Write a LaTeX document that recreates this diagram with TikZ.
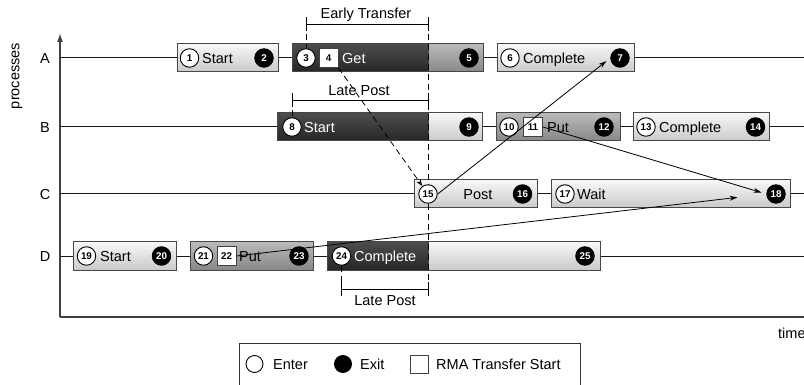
\documentclass[tikz,border=0pt]{standalone}
\usepackage{fontspec}
\setmainfont{Liberation Sans}
\usetikzlibrary{arrows.meta}
\pgfdeclarelayer{lines}
\pgfdeclarelayer{boxes}
\pgfdeclarelayer{guides}
\pgfdeclarelayer{front}
\pgfsetlayers{lines,boxes,guides,main,front}

\tikzset{
  txt/.style={font=\fontsize{14.5}{16}\selectfont, inner sep=0pt, text height=10.4pt, text depth=0pt},
  lbl/.style={txt, anchor=west},
  wlbl/.style={lbl, text=white},
  proc/.style={line width=1pt, draw=black!90},
  axis/.style={line width=1.5pt, draw=black!75},
  boxbase/.style={draw=black!72, line width=1pt, minimum height=28pt, inner sep=0pt, anchor=west},
  lightbox/.style={boxbase, top color=black!3, bottom color=black!21},
  midbox/.style={boxbase, top color=black!27, bottom color=black!47},
  darkbox/.style={boxbase, top color=black!70, bottom color=black!85},
  numfont/.style={font=\fontsize{9.8}{10}\selectfont\bfseries, text height=7pt, text depth=0pt},
  enter/.style={circle, draw=black, line width=0.9pt, fill=white, minimum size=18.5pt, inner sep=0pt, numfont},
  exit/.style={enter, fill=black, text=white},
  rma/.style={rectangle, draw=black!75, line width=0.9pt, fill=white, minimum size=19pt, inner sep=0pt, numfont},
  msg/.style={-{Stealth[length=8pt,width=5pt]}, line width=0.8pt},
  guide/.style={dash pattern=on 6pt off 4pt, line width=0.8pt},
  tick/.style={line width=0.8pt},
}

\begin{document}
\begin{tikzpicture}[x=1pt,y=-1pt]
\useasboundingbox (0,0) rectangle (804,385);

% ---------- axes and process lines ----------
\coordinate (origin) at (60,317);
\coordinate (ytop) at (60,33);
\coordinate (xend) at (804,317);
\foreach \r/\y in {A/58,B/127,C/194,D/256}{
  \coordinate (row\r) at (60,\y);
  \coordinate (row\r end) at (804,\y);
  \node[txt] (lab\r) at (45,\y) {\r};
}
\begin{pgfonlayer}{lines}
  \foreach \r in {A,B,C,D} \draw[proc] (row\r) -- (row\r end);
  \draw[axis, -{Latex[length=9pt,width=6pt]}] (origin) -- (ytop);
  \draw[axis] (origin) -- (xend);
\end{pgfonlayer}
\node[font=\fontsize{14.5}{16}\selectfont, rotate=90, inner sep=0pt] (plabel) at (17,76) {processes};
\node[lbl] (tlabel) at (778,333) {time};

% ---------- activity boxes ----------
\begin{pgfonlayer}{boxes}
  % process A
  \node[lightbox, minimum width=101pt] (aStart) at (177,58) {};
  \node[darkbox, minimum width=136pt] (aGet) at (292,58) {};
  \node[midbox, minimum width=55pt] (aGetTail) at (428,58) {};
  \node[lightbox, minimum width=137pt] (aComplete) at (497,58) {};
  % process B
  \node[darkbox, minimum width=151pt] (bStart) at (277,127) {};
  \node[lightbox, minimum width=54pt] (bStartTail) at (428,127) {};
  \node[midbox, minimum width=124pt] (bPut) at (496,127) {};
  \node[lightbox, minimum width=136pt] (bComplete) at (633,127) {};
  % process C
  \node[lightbox, minimum width=123pt] (cPost) at (414,194) {};
  \node[lightbox, minimum width=239pt] (cWait) at (551,194) {};
  % process D
  \node[lightbox, minimum width=103pt] (dStart) at (73,256) {};
  \node[midbox, minimum width=123pt] (dPut) at (190,256) {};
  \node[darkbox, minimum width=101pt] (dComplete) at (327,256) {};
  \node[lightbox, minimum width=172pt] (dCompleteTail) at (428,256) {};
\end{pgfonlayer}

% ---------- enter / exit events and transfer starts ----------
\node[enter] (e1) at (189.5,58) {1};
\node[exit]  (e2) at (264,58) {2};
\node[enter] (e3) at (306,58) {3};
\node[rma]   (r4) at (328.5,58) {4};
\node[exit]  (e5) at (469,58) {5};
\node[enter] (e6) at (510,58) {6};
\node[exit]  (e7) at (620,58) {7};

\node[enter] (e8) at (292,127) {8};
\node[exit]  (e9) at (469,127) {9};
\node[enter] (e10) at (509,127) {10};
\node[rma]   (r11) at (533,127) {11};
\node[exit]  (e12) at (604,127) {12};
\node[enter] (e13) at (646,127) {13};
\node[exit]  (e14) at (755.5,127) {14};

\node[enter] (e15) at (428,194) {15};
\node[exit]  (e16) at (522.5,194) {16};
\node[enter] (e17) at (565,194) {17};
\node[exit]  (e18) at (776,194) {18};

\node[enter] (e19) at (86.5,256) {19};
\node[exit]  (e20) at (161.5,256) {20};
\node[enter] (e21) at (203.5,256) {21};
\node[rma]   (r22) at (226.5,256) {22};
\node[exit]  (e23) at (299,256) {23};
\node[enter] (e24) at (341.5,256) {24};
\node[exit]  (e25) at (585,256) {25};

% ---------- activity names ----------
\node[lbl]  (tA1) at (202,58) {Start};
\node[wlbl] (tA2) at (342,58) {Get};
\node[lbl]  (tA3) at (523,58) {Complete};
\node[wlbl] (tB1) at (304,127) {Start};
\node[lbl]  (tB2) at (547,127) {Put};
\node[lbl]  (tB3) at (659,127) {Complete};
\node[txt]  (tC1) at (478,194) {Post};
\node[lbl]  (tC2) at (577,194) {Wait};
\node[lbl]  (tD1) at (100,256) {Start};
\node[lbl]  (tD2) at (239,256) {Put};
\node[wlbl] (tD3) at (354,256) {Complete};

% ---------- interval brackets ----------
\coordinate (etL) at (306,24);
\coordinate (etR) at (428,24);
\coordinate (lpbL) at (292,100);
\coordinate (lpbR) at (428,100);
\coordinate (lpdL) at (341.5,289);
\coordinate (lpdR) at (428,289);
\node[txt] (etLabel) at (366,13) {Early Transfer};
\node[txt] (lpbLabel) at (359,90) {Late Post};
\node[txt] (lpdLabel) at (385,300) {Late Post};
\begin{pgfonlayer}{guides}
  \draw[tick] (etL) -- (etR);
  \draw[tick] (lpbL) -- (lpbR);
  \draw[tick] (lpdL) -- (lpdR);
  \foreach \c in {etL,etR,lpbL,lpbR,lpdL,lpdR}
    \draw[tick] ([yshift=7pt]\c) -- ([yshift=-7pt]\c);
  \draw[guide] (etR) -- (lpdR);
  \draw[guide] (etL) -- (e3);
  \draw[guide] (lpbL) -- (e8);
  \draw[guide] (e24) -- (lpdL);
\end{pgfonlayer}

% ---------- data transfers ----------
\begin{pgfonlayer}{front}
  \draw[guide, -{Stealth[open,length=7pt,width=5pt]}] (r4.south east) -- (e15);
  \draw[msg, shorten >=5pt] (e15.east) -- (e7.west);
  \draw[msg, shorten >=5pt] (r11.east) -- (e18.west);
  \draw[msg, shorten >=29pt] (r22.east) -- (e18.west);
\end{pgfonlayer}

% ---------- legend ----------
\node[draw=black!80, line width=1pt, minimum width=341pt, minimum height=52pt, anchor=north west, inner sep=0pt] (legend) at (239,343) {};
\node[enter, minimum size=17pt] (lgEnter) at (254.5,364) {};
\node[lbl] (lgEnterT) at (273,364) {Enter};
\node[exit, minimum size=17pt] (lgExit) at (343,364) {};
\node[lbl] (lgExitT) at (360,364) {Exit};
\node[rma, minimum size=18pt] (lgRma) at (419,364) {};
\node[lbl] (lgRmaT) at (436,364) {RMA Transfer Start};
\end{tikzpicture}
\end{document}
